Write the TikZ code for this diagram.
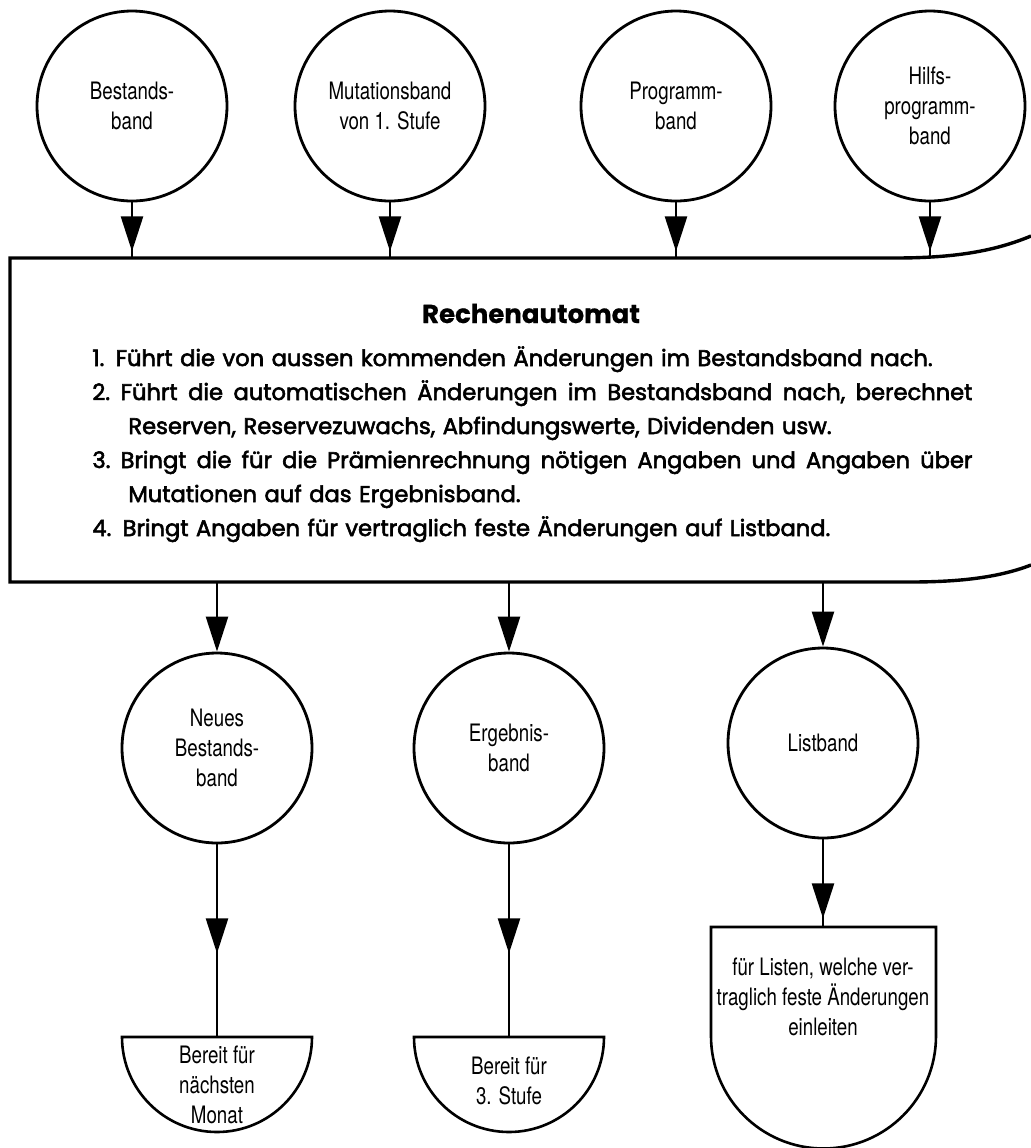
\documentclass[tikz,border=0pt]{standalone}
\usepackage{fontspec}
\usetikzlibrary{arrows.meta,decorations.markings,calc}
\newfontfamily\condfont[FakeStretch=0.78]{TeX Gyre Heros}
\newfontfamily\boxfont[FakeBold=2.5]{Poppins}
\newfontfamily\headfont[FakeBold=0.6]{Poppins}
\newcommand\justline[1]{\leavevmode\hbox to 440pt{\frenchspacing\spaceskip=0pt\xspaceskip=0pt #1}}
\begin{document}
\begin{tikzpicture}[x=0.5pt,y=-0.5pt,
  band/.style={circle, draw, line width=1.4pt, minimum size=95pt, inner sep=0pt, align=center,
    font=\condfont\fontsize{12}{15}\selectfont},
  lbl/.style={align=center, inner sep=0pt, font=\condfont\fontsize{12}{15}\selectfont},
  shapeline/.style={draw, line width=1.3pt},
  frame/.style={line width=1.7pt},
  flow/.style={line width=1.2pt},
  tipend/.style={-{Triangle[length=17.5pt,width=11pt]}},
  arrowat/.style={postaction={decorate}, decoration={markings,
    mark=at position #1 with {\arrow{Triangle[length=17.5pt,width=11pt]}}}}
]
\fill[white] (0,0) rectangle (1031,1148);
\useasboundingbox (0,0) rectangle (1031,1148);

% top tapes
\node[band] (b1) at (132,106) {Bestands-\\band};
\node[band] (b2) at (390,106) {Mutationsband\\von 1. Stufe};
\node[band] (b3) at (676,106) {Programm-\\band};
\node[band] (b4) at (930,106) {Hilfs-\\programm-\\band};

% computer box
\coordinate (top) at (10,258);
\coordinate (bot) at (10,582);
\draw[frame] (1031,236) .. controls (995,251) and (955,258) .. (895,258) -- (top) -- (bot)
  -- (910,582) .. controls (962,582) and (1000,577) .. (1031,565);

\node[font=\headfont\bfseries\fontsize{13}{15}\selectfont, anchor=base, inner sep=0pt] (title) at (531,323) {Rechenautomat};
\node[anchor=base west, text width=440pt, align=left, inner sep=0pt,
  font=\boxfont\fontsize{11.3}{17}\selectfont] (list) at (92,366) {%
1. Führt die von aussen kommenden Änderungen im Bestandsband nach.\\
\justline{2. Führt die automatischen Änderungen im Bestandsband nach, berechnet}\\
\hspace*{18pt}Reserven, Reservezuwachs, Abfindungswerte, Dividenden usw.\\
\justline{3. Bringt die für die Prämienrechnung nötigen Angaben und Angaben über}\\
\hspace*{18pt}Mutationen auf das Ergebnisband.\\
4. Bringt Angaben für vertraglich feste Änderungen auf Listband.};

% arrows into the box
\foreach \n in {b1,b2,b3,b4}
  \draw[flow, arrowat=24.5pt] (\n.south) -- (\n.south |- top);

% output tapes
\node[band] (c1) at (217,748) {Neues\\Bestands-\\band};
\node[band] (c2) at (509,748) {Ergebnis-\\band};
\node[band] (c3) at (823,743) {Listband};

\foreach \n in {c1,c2,c3}
  \draw[flow, tipend] (\n.north |- bot) -- (\n.north);

% results
\coordinate (m1) at (217,1037);
\coordinate (m2) at (509,1037);
\coordinate (d) at (823,927);
\draw[shapeline] ($(m1)+(-95,0)$) -- ($(m1)+(95,0)$) arc[start angle=0, end angle=180, radius=95] -- cycle;
\draw[shapeline] ($(m2)+(-95,0)$) -- ($(m2)+(95,0)$) arc[start angle=0, end angle=180, radius=95] -- cycle;
\draw[shapeline] ($(d)+(-112,0)$) -- ($(d)+(113,0)$) -- ++(0,109) arc[start angle=0, end angle=180, radius=112.5] -- cycle;

\node[lbl] (m1t) at (217,1085) {Bereit für\\nächsten\\Monat};
\node[lbl] (m2t) at (509,1081) {Bereit für\\3. Stufe};
\node[lbl] (dt) at (823,997) {für Listen, welche ver-\\traglich feste Änderungen\\einleiten};

\draw[flow, arrowat=54.5pt] (c1.south) -- (m1);
\draw[flow, arrowat=54.5pt] (c2.south) -- (m2);
\draw[flow, arrowat=39.5pt] (c3.south) -- (d);
\end{tikzpicture}
\end{document}
